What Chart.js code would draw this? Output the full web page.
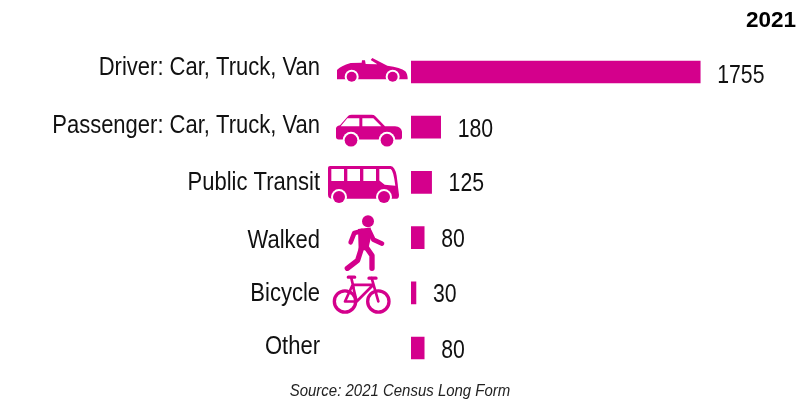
<!DOCTYPE html>
<html>
<head>
<meta charset="utf-8">
<style>
  html, body { margin: 0; padding: 0; background: #fff; }
  canvas { display: block; }
</style>
<script src="https://cdn.jsdelivr.net/npm/chart.js@4"></script>
</head>
<body>
<canvas id="chart" width="801" height="407"></canvas>
<script>
const categories = ['Driver: Car, Truck, Van', 'Passenger: Car, Truck, Van', 'Public Transit', 'Walked', 'Bicycle', 'Other'];
const commuters = [1755, 180, 125, 80, 30, 80];
const icons = ['roadster', 'sedan', 'bus', 'walker', 'bike', null];
const labelNudge = [-4, -1, 1, 4, 1, -1];
const valueNudge = [4, 3, 2, 3, 2, 3];

const PINK = '#d4008c';
const FONT = '"Liberation Sans", Arial, sans-serif';

// Icons are sketched at 3x, x from 320, y from the row centre
function wheel(ctx, x, y, ring) {
    ctx.fillStyle = '#fff';
    ctx.beginPath(); ctx.arc(x, y, ring, 0, Math.PI * 2); ctx.fill();
    ctx.fillStyle = PINK;
    ctx.beginPath(); ctx.arc(x, y, ring - 6, 0, Math.PI * 2); ctx.fill();
}

// Liberation has no narrow cut here, so squeeze the text sideways
function squeezedText(ctx, text, x, y, squeeze) {
    ctx.save();
    ctx.translate(x, y);
    ctx.scale(squeeze, 1);
    ctx.fillText(text, 0, 0);
    ctx.restore();
}

const drawIcon = {
    roadster(ctx) {
        ctx.fill(new Path2D('M51 22 L51 -6 Q62 -18 92 -27 L125 -28 L126 -35 L135 -35 L137 -24 L172 -23 L152 -36 L157 -42 L202 -19 Q242 -14 256 -2 Q263 6 263 22 Z'));
        wheel(ctx, 95, 14, 21);
        wheel(ctx, 218, 14, 21);
    },
    sedan(ctx) {
        ctx.fill(new Path2D('M48 4 Q48 -3 60 -6 L85 -34 Q88 -37 95 -37 L155 -37 Q162 -37 166 -33 L195 -3 L225 -3 Q245 -1 246 14 L246 30 Q246 37 238 37 L56 37 Q48 37 48 29 Z'));
        ctx.fillStyle = '#fff';
        ctx.fill(new Path2D('M62 -3 L82 -27 L118 -27 L118 -3 Z M127 -27 L160 -27 L184 -3 L127 -3 Z'));
        wheel(ctx, 93, 39, 25);
        wheel(ctx, 201, 39, 25);
    },
    bus(ctx) {
        ctx.fill(new Path2D('M24 -44 Q24 -49 30 -49 L212 -49 Q225 -47 230 -20 L237 38 Q237 49 230 49 L34 49 Q24 47 24 36 Z'));
        ctx.fillStyle = '#fff';
        ctx.fill(new Path2D('M34 -40 L72 -40 L72 -4 L34 -4 Z M82 -40 L120 -40 L120 -4 L82 -4 Z M130 -40 L168 -40 L168 -4 L130 -4 Z M178 -40 L212 -40 Q220 -36 226 10 L194 7 L178 -6 Z'));
        wheel(ctx, 57, 44, 24);
        wheel(ctx, 192, 44, 24);
    },
    walker(ctx) {
        ctx.beginPath(); ctx.arc(144, -49, 18, 0, Math.PI * 2); ctx.fill();
        ctx.strokeStyle = PINK;
        ctx.lineCap = 'round';
        ctx.lineJoin = 'round';
        ctx.lineWidth = 16;
        ctx.beginPath(); ctx.moveTo(125, 30); ctx.lineTo(113, 68); ctx.lineTo(82, 92); ctx.stroke();
        ctx.beginPath(); ctx.moveTo(134, 22); ctx.lineTo(156, 54); ctx.lineTo(156, 92); ctx.stroke();
        ctx.lineWidth = 14;
        ctx.beginPath(); ctx.moveTo(125, -20); ctx.lineTo(103, -14); ctx.lineTo(92, 14); ctx.stroke();
        ctx.beginPath(); ctx.moveTo(148, -20); ctx.lineTo(160, 6); ctx.lineTo(186, 18); ctx.stroke();
        ctx.fill(new Path2D('M114 -26 L152 -30 L154 -6 L144 38 L116 38 Z'));
    },
    bike(ctx) {
        ctx.strokeStyle = PINK;
        ctx.lineCap = 'round';
        ctx.lineJoin = 'round';
        ctx.lineWidth = 10;
        ctx.beginPath(); ctx.arc(75, 26, 32, 0, Math.PI * 2); ctx.stroke();
        ctx.beginPath(); ctx.arc(175, 26, 32, 0, Math.PI * 2); ctx.stroke();
        ctx.lineWidth = 8;
        ctx.beginPath();
        ctx.moveTo(75, 26); ctx.lineTo(98, -24); ctx.lineTo(110, 26); ctx.lineTo(75, 26);
        ctx.moveTo(110, 26); ctx.lineTo(160, -24); ctx.lineTo(98, -24);
        ctx.moveTo(94, -44); ctx.lineTo(101, -14);
        ctx.moveTo(155, -44); ctx.lineTo(175, 26);
        ctx.stroke();
        ctx.lineWidth = 10;
        ctx.beginPath(); ctx.moveTo(85, -47); ctx.lineTo(104, -47); ctx.moveTo(147, -44); ctx.lineTo(168, -44); ctx.stroke();
    }
};

const commuteText = {
    id: 'commuteText',
    afterDatasetsDraw(chart) {
        const ctx = chart.ctx;
        const x = chart.scales.x;
        const y = chart.scales.y;
        ctx.save();
        ctx.textBaseline = 'middle';
        ctx.fillStyle = '#111';
        ctx.font = '25px ' + FONT;
        categories.forEach((name, i) => {
            const row = y.getPixelForValue(i);
            ctx.textAlign = 'right';
            squeezedText(ctx, name, 320, row + labelNudge[i], 0.88);
            ctx.textAlign = 'left';
            squeezedText(ctx, String(commuters[i]), x.getPixelForValue(commuters[i]) + 17, row + valueNudge[i], 0.85);
        });
        ctx.fillStyle = '#000';
        ctx.textAlign = 'right';
        ctx.font = 'bold 22.5px ' + FONT;
        ctx.fillText('2021', 796, 21);
        ctx.fillStyle = '#222';
        ctx.textAlign = 'center';
        ctx.font = 'italic 16px ' + FONT;
        squeezedText(ctx, 'Source: 2021 Census Long Form', 400, 392, 0.936);

        icons.forEach((name, i) => {
            if (!name) return;
            ctx.save();
            ctx.translate(320, y.getPixelForValue(i));
            ctx.scale(1 / 3, 1 / 3);
            ctx.fillStyle = PINK;
            drawIcon[name](ctx);
            ctx.restore();
        });
        ctx.restore();
    }
};

new Chart(document.getElementById('chart'), {
    type: 'bar',
    data: {
        labels: categories,
        datasets: [{ data: commuters, backgroundColor: PINK, barThickness: 22 }]
    },
    options: {
        indexAxis: 'y',
        responsive: false,
        animation: false,
        layout: { padding: { left: 411, right: 60.4, top: 44.4, bottom: 31.4 } },
        plugins: { legend: { display: false }, tooltip: { enabled: false } },
        scales: {
            x: { display: false, min: 0, max: 2000 },
            y: { display: false }
        }
    },
    plugins: [commuteText]
});
</script>
</body>
</html>
